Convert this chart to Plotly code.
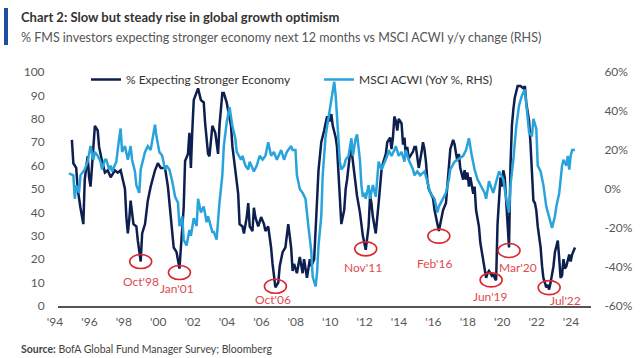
import plotly.graph_objects as go

# ---------------- data ----------------
fms_dates = ["1994-10","1994-11","1995-01","1995-02","1995-04","1995-06","1995-07","1995-09","1995-10","1995-11",
 "1996-01","1996-02","1996-04","1996-05","1996-07","1996-09","1996-11","1997-01","1997-04","1997-06","1997-08",
 "1997-11","1997-12","1998-01","1998-02","1998-03","1998-05","1998-07","1998-08","1998-10","1998-11","1999-01",
 "1999-03","1999-05","1999-08","1999-10","1999-12","2000-03","2000-05","2000-07","2000-09","2000-11","2001-01",
 "2001-02","2001-04","2001-05","2001-07","2001-08","2001-09","2001-10","2001-11","2002-02","2002-04","2002-06",
 "2002-07","2002-09","2002-10","2002-12","2003-02","2003-04","2003-05","2003-07","2003-08","2003-10","2003-11",
 "2004-01","2004-02","2004-04","2004-06","2004-07","2004-09","2004-10","2004-12","2005-01","2005-02","2005-04",
 "2005-05","2005-06","2005-08","2005-10","2005-12","2006-01","2006-03","2006-05","2006-06","2006-08","2006-10",
 "2006-11","2007-01","2007-03","2007-05","2007-07","2007-08","2007-09","2007-11","2008-01","2008-03","2008-04",
 "2008-06","2008-08","2008-09","2008-11","2008-12","2009-01","2009-02","2009-04","2009-06","2009-08","2009-10",
 "2009-11","2009-12","2010-01","2010-02","2010-03","2010-04","2010-05","2010-06","2010-08","2010-09","2010-10",
 "2010-12","2011-01","2011-02","2011-03","2011-04","2011-05","2011-07","2011-08","2011-09","2011-11","2012-01",
 "2012-02","2012-03","2012-04","2012-05","2012-06","2012-08","2012-09","2012-10","2012-11","2013-01","2013-02",
 "2013-04","2013-05","2013-06","2013-07","2013-08","2013-09","2013-10","2013-12","2014-01","2014-02","2014-03",
 "2014-04","2014-05","2014-08","2014-09","2014-10","2014-11","2014-12","2015-02","2015-03","2015-04","2015-05",
 "2015-06","2015-07","2015-10","2015-11","2016-02","2016-04","2016-05","2016-07","2016-08","2016-09","2016-10",
 "2016-12","2017-01","2017-02","2017-03","2017-04","2017-05","2017-07","2017-08","2017-09","2017-10","2017-11",
 "2017-12","2018-02","2018-03","2018-04","2018-06","2018-07","2018-09","2018-10","2018-11","2018-12","2019-01",
 "2019-03","2019-04","2019-05","2019-06","2019-07","2019-08","2019-09","2019-10","2019-11","2019-12","2020-01",
 "2020-02","2020-03","2020-04","2020-05","2020-06","2020-07","2020-09","2020-11","2021-01","2021-02","2021-03",
 "2021-05","2021-06","2021-07","2021-08","2021-09","2021-10","2021-11","2022-01","2022-02","2022-03","2022-04",
 "2022-05","2022-06","2022-07","2022-08","2022-10","2022-11","2023-01","2023-02","2023-03","2023-04","2023-05",
 "2023-06","2023-07","2023-09","2023-10","2023-11","2024-01"]
fms_values = [71,61,59,50,42,35,54,64,55,51,
 68,77,75,68,62,57,58,55,58,57,58,
 50,38,31,37,45,35,34,28,19,31,35,
 45,51,58,61,59,59,51,37,25,23,16,
 25,42,62,65,74,59,75,88,93,88,87,
 78,65,64,77,74,65,77,91,91,87,84,
 77,68,58,48,35,34,31,38,44,34,32,
 42,38,34,38,35,32,34,25,18,8,10,
 17,23,25,35,25,15,18,14,21,14,20,
 12,20,17,20,30,45,58,70,75,81,79,
 82,77,75,72,68,58,47,35,41,50,54,
 65,67,62,55,50,47,40,35,30,24,34,
 47,44,38,34,31,44,52,58,61,65,70,
 72,67,72,81,79,75,80,78,69,72,64,
 68,63,66,68,68,62,59,66,70,67,62,
 54,50,46,41,32,38,41,44,51,58,67,
 71,69,65,62,65,59,54,58,54,57,51,
 55,48,51,41,34,27,20,16,12,14,15,
 13,14,12,11,35,48,55,51,58,55,45,
 36,25,60,77,84,89,94,94,93,94,87,
 79,69,58,45,44,41,34,25,17,12,10,
 8,9,7,10,17,23,28,20,12,13,20,
 16,17,22,19,22,25]

msci_dates = ["1994-08","1994-11","1994-12","1995-01","1995-03","1995-04","1995-07","1995-09","1995-11","1996-01",
 "1996-02","1996-04","1996-06","1996-07","1996-09","1996-10","1996-12","1997-01","1997-02","1997-05","1997-07",
 "1997-08","1997-09","1997-11","1998-01","1998-03","1998-04","1998-06","1998-07","1998-09","1998-10","1999-01",
 "1999-03","1999-05","1999-08","1999-09","1999-11","2000-01","2000-03","2000-04","2000-06","2000-08","2000-10",
 "2000-12","2001-01","2001-03","2001-04","2001-06","2001-08","2001-09","2001-11","2002-01","2002-02","2002-04",
 "2002-06","2002-08","2002-09","2002-12","2003-01","2003-03","2003-05","2003-07","2003-08","2003-10","2003-12",
 "2004-02","2004-04","2004-05","2004-08","2004-09","2004-11","2005-01","2005-02","2005-05","2005-07","2005-09",
 "2005-11","2006-01","2006-03","2006-05","2006-07","2006-09","2006-12","2007-02","2007-04","2007-07","2007-08",
 "2007-10","2007-11","2008-01","2008-03","2008-05","2008-07","2008-09","2008-10","2008-12","2009-01","2009-02",
 "2009-04","2009-05","2009-07","2009-10","2009-12","2010-01","2010-02","2010-03","2010-04","2010-05","2010-06",
 "2010-08","2010-09","2010-11","2011-01","2011-02","2011-04","2011-05","2011-07","2011-08","2011-09","2011-10",
 "2011-11","2012-01","2012-02","2012-03","2012-04","2012-06","2012-07","2012-08","2012-10","2012-12","2013-02",
 "2013-03","2013-05","2013-07","2013-08","2013-10","2013-12","2014-02","2014-03","2014-05","2014-08","2014-09",
 "2014-11","2015-01","2015-04","2015-06","2015-08","2015-11","2016-01","2016-02","2016-05","2016-07","2016-09",
 "2016-10","2017-01","2017-03","2017-07","2017-09","2017-11","2018-01","2018-03","2018-05","2018-07","2018-10",
 "2018-11","2019-01","2019-04","2019-06","2019-08","2019-11","2020-01","2020-03","2020-04","2020-06","2020-08",
 "2020-10","2020-12","2021-02","2021-03","2021-05","2021-07","2021-08","2021-10","2021-11","2022-01","2022-03",
 "2022-05","2022-07","2022-09","2022-11","2022-12","2023-02","2023-03","2023-04","2023-05","2023-07","2023-08",
 "2023-09","2023-10","2023-11","2024-01"]
msci_values = [8,7,-5,2,-2,7,10,14,22,15,
 19,17,14,10,15,15,10,12,9,14,26,
 31,19,22,15,22,15,9,2,-2,10,19,
 22,20,33,27,19,17,10,12,10,4,-4,
 -7,-19,-14,-26,-29,-21,-24,-15,-19,-5,-12,
 -9,-17,-14,-22,-22,-26,-7,7,22,34,42,
 32,26,19,15,17,12,10,14,9,12,17,
 15,17,24,17,19,15,20,15,19,22,20,
 20,7,0,-2,-5,-19,-32,-45,-50,-43,-29,
 -14,7,27,41,51,55,48,36,24,14,10,
 12,15,17,26,17,26,28,15,2,-4,-2,
 -5,2,-5,-2,2,-4,7,14,10,14,17,
 20,17,20,22,17,19,14,20,15,10,7,
 9,7,9,4,-2,-5,-12,-9,-5,-2,5,
 10,14,15,17,20,26,17,10,5,2,-2,
 -5,4,-2,4,9,5,-5,-12,2,15,32,
 43,48,51,45,29,27,36,31,12,9,2,
 -9,-14,-20,-14,-9,-2,5,12,15,12,17,
 10,17,20,20]

left_ticks = [0, 10, 20, 30, 40, 50, 60, 70, 80, 90, 100]
right_ticks = [-60, -40, -20, 0, 20, 40, 60]
right_labels = ["-60%", "-40%", "-20%", "0%", "20%", "40%", "60%"]
year_ticks = list(range(1994, 2025, 2))
year_labels = ["'%02d" % (y % 100) for y in year_ticks]

low_labels = ["Oct'98", "Jan'01", "Oct'06", "Nov'11", "Feb'16", "Jun'19", "Mar'20", "Jul'22"]
low_dates = ["1998-10-01", "2001-01-01", "2006-08-01", "2011-11-01", "2016-02-01", "2019-02-15", "2020-03-01", "2022-07-01"]
low_values = [19, 16, 8, 24, 32, 12, 25, 7]

# ---------------- styling / layout ----------------
W, H = 640, 358
L, R, T, B = 58, 49, 72, 52
PW, PH = W - L - R, H - T - B
DARK = "#0c1f4f"
LIGHT = "#29a3db"
RED = "#d9272e"
TXT = "#595959"
FONT = "Lato"

def px_x(p):
    return (p - L) / PW

def px_y(p):
    return (H - B - p) / PH

# per-annotation pixel offsets (circle dy, label dx, label dy)
circle_dy = [0, -4, 1, 1, -5, -2, -3, 2]
label_dx = [0, -2, -2, -3, -4, -1, 9, 16]
label_dy = [-20, -20, -12, -18, -32, -19, -20, -11]

fig = go.Figure()
fig.add_trace(go.Scatter(x=fms_dates, y=fms_values, mode="lines", name="% Expecting Stronger Economy",
                         line=dict(color=DARK, width=2.5), yaxis="y"))
fig.add_trace(go.Scatter(x=msci_dates, y=msci_values, mode="lines", name="MSCI ACWI (YoY %, RHS)",
                         line=dict(color=LIGHT, width=2.5), yaxis="y2"))

shapes = []
annotations = []
for lab, d, v, cdy, ldx, ldy in zip(low_labels, low_dates, low_values, circle_dy, label_dx, label_dy):
    shapes.append(dict(type="circle", xref="x", yref="y", xsizemode="pixel", ysizemode="pixel",
                       xanchor=d, yanchor=v, x0=-11, x1=11, y0=-7 + cdy, y1=7 + cdy,
                       line=dict(color=RED, width=1.6)))
    annotations.append(dict(x=d, y=v, xref="x", yref="y", text=lab, showarrow=False,
                            xshift=ldx, yshift=ldy, font=dict(family=FONT, size=12, color="#e04a4f")))

# blue bar at left of title
shapes.append(dict(type="rect", xref="paper", yref="paper", x0=px_x(4), x1=px_x(8), y0=px_y(45), y1=px_y(8),
                   fillcolor="#1f4ea1", line=dict(width=0)))

annotations += [
    dict(xref="paper", yref="paper", x=px_x(19), y=px_y(17), xanchor="left", yanchor="middle", showarrow=False,
         text="<b>Chart 2: Slow but steady rise in global growth optimism</b>",
         font=dict(family=FONT, size=13, color="#333333")),
    dict(xref="paper", yref="paper", x=px_x(19), y=px_y(37), xanchor="left", yanchor="middle", showarrow=False,
         text="% FMS investors expecting stronger economy next 12 months vs MSCI ACWI y/y change (RHS)",
         font=dict(family=FONT, size=12.5, color="#555555")),
    dict(xref="paper", yref="paper", x=px_x(19), y=px_y(349), xanchor="left", yanchor="middle", showarrow=False,
         text="<b>Source:</b> BofA Global Fund Manager Survey; Bloomberg",
         font=dict(family=FONT, size=10.5, color="#444444")),
]

fig.update_layout(
    width=W, height=H,
    margin=dict(l=L, r=R, t=T, b=B, autoexpand=False),
    paper_bgcolor="white", plot_bgcolor="white",
    font=dict(family=FONT, size=12, color=TXT),
    showlegend=True,
    hovermode=False,
    legend=dict(orientation="h", x=px_x(86), y=px_y(65), xanchor="left", yanchor="top",
                entrywidth=188, entrywidthmode="pixels", bgcolor="rgba(0,0,0,0)",
                font=dict(family=FONT, size=12, color="#333333"), traceorder="normal"),
    xaxis=dict(type="date", range=["1993-12-10", "2024-12-06"],
               tickvals=["%d-01-01" % y for y in year_ticks], ticktext=year_labels, ticklabelshift=-4,
               showgrid=False, zeroline=False, showline=True, linecolor="#555555", linewidth=1.5,
               ticks="outside", ticklen=4, tickcolor="rgba(0,0,0,0)",
               tickfont=dict(family=FONT, size=12, color=TXT)),
    yaxis=dict(range=[0, 100], tickvals=left_ticks, showgrid=False, zeroline=False, showline=False,
               ticks="outside", ticklen=10, tickcolor="rgba(0,0,0,0)",
               tickfont=dict(family=FONT, size=12, color=TXT)),
    yaxis2=dict(range=[-60, 60], tickvals=right_ticks, ticktext=right_labels, overlaying="y", side="right",
                showgrid=False, zeroline=False, showline=False,
                ticks="outside", ticklen=10, tickcolor="rgba(0,0,0,0)",
                tickfont=dict(family=FONT, size=12, color=TXT)),
    shapes=shapes,
    annotations=annotations,
)

fig.write_html("out.html", config={"displayModeBar": False},
               post_script="document.body.style.margin='0';")
